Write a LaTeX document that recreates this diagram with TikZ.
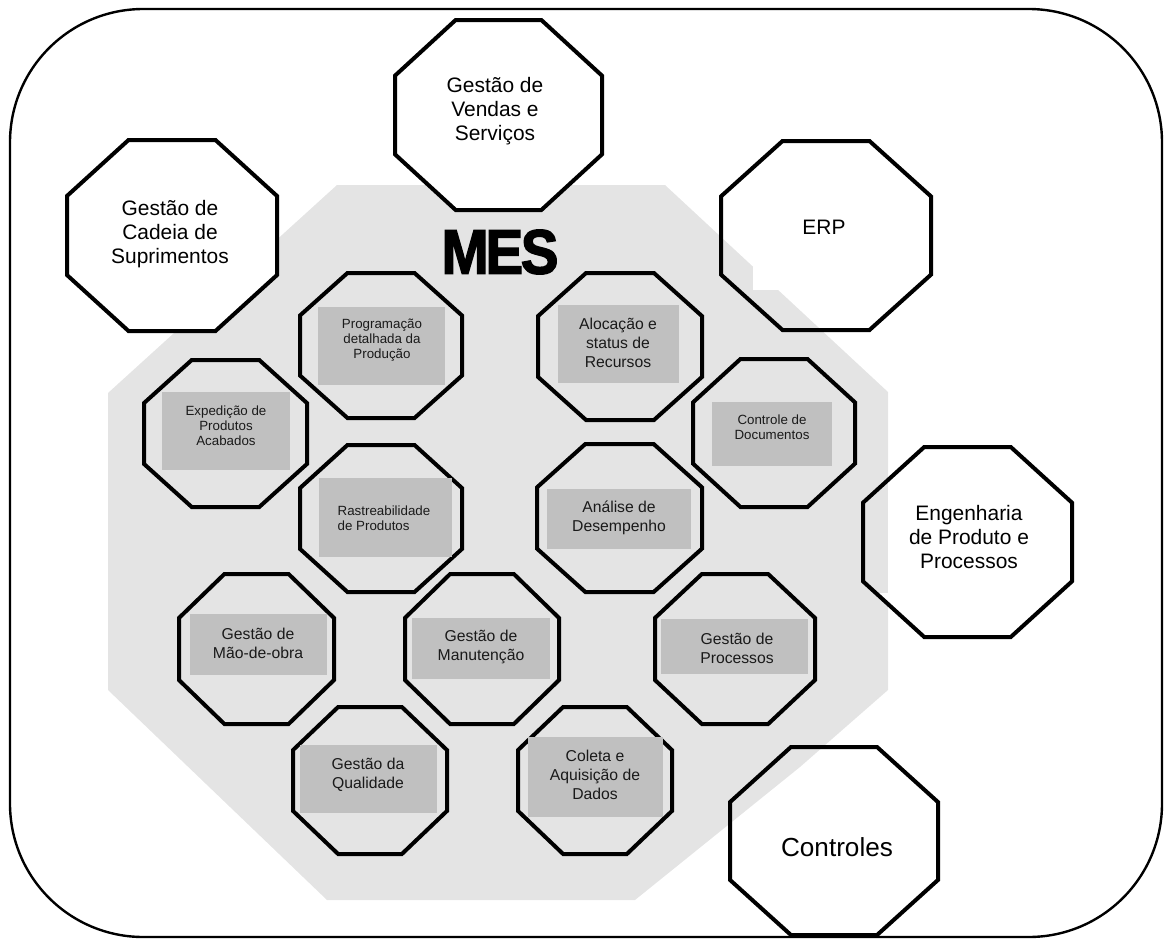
\documentclass[tikz,border=0pt]{standalone}
\usepackage{fontspec}
\setmainfont{Liberation Sans}
\definecolor{mesgray}{RGB}{228,228,228}
\definecolor{boxgray}{RGB}{192,192,192}
\definecolor{inkgray}{RGB}{26,26,26}
\newcommand{\octagon}[5][]{\path[#1] ({#2},{#3+0.293*(#5-#3)}) -- ({#2+0.293*(#4-#2)},{#3}) -- ({#4-0.293*(#4-#2)},{#3}) -- ({#4},{#3+0.293*(#5-#3)}) -- ({#4},{#5-0.293*(#5-#3)}) -- ({#4-0.293*(#4-#2)},{#5}) -- ({#2+0.293*(#4-#2)},{#5}) -- ({#2},{#5-0.293*(#5-#3)}) -- cycle;}
\tikzset{
  octo/.style={draw,line width=3pt},
  boxfill/.style={fill=boxgray},
  outtext/.style={font=\fontsize{15.7}{18}\selectfont,align=center,inner sep=0pt},
  midtext/.style={font=\fontsize{11.8}{14.3}\selectfont,align=center,text=inkgray,inner sep=0pt},
  smalltext/.style={font=\fontsize{10}{11.4}\selectfont,align=center,text=inkgray,inner sep=0pt}
}
\begin{document}
\begin{tikzpicture}[x=0.75pt,y=-0.75pt,line width=0.4pt]
\useasboundingbox (0,0) rectangle (1165,940);
\draw[line width=1.8pt,rounded corners=100pt] (10,9) rectangle (1162,937);
\fill[mesgray] (337,185) -- (665,185) -- (888,392) -- (888,690) -- (800,767) -- (635,900) -- (327,900) -- (108,690) -- (108,393) -- cycle;
\octagon[fill=white]{67}{140}{277}{331}
\octagon[fill=white]{395}{20}{602}{210}
\fill[white] (753,150) rectangle (925,290);
\octagon[fill=white]{863}{447}{1072}{637}
\begin{scope}
\octagon[clip]{863}{447}{1072}{637}
\fill[mesgray] (850,440) rectangle (888,593);
\end{scope}
\octagon[octo]{67}{140}{277}{331}
\octagon[octo]{395}{20}{602}{210}
\octagon[octo]{721}{141}{931}{330}
\octagon[octo]{863}{447}{1072}{637}
\octagon[octo]{730}{747}{938}{935}
\octagon[octo]{300}{273}{462}{418}
\octagon[octo]{144}{360}{307}{507}
\octagon[octo]{300}{445}{462}{592}
\octagon[octo]{538}{273}{702}{420}
\octagon[octo]{693}{359}{855}{507}
\octagon[octo]{537}{444}{702}{592}
\octagon[octo]{179}{574}{334}{724}
\octagon[octo]{405}{574}{559}{724}
\octagon[octo]{655}{574}{815}{724}
\octagon[octo]{293}{707}{447}{854}
\octagon[octo]{518}{707}{672}{854}
\path[boxfill] (318,307) rectangle (445,385);
\path[boxfill] (162,392) rectangle (290,470);
\path[boxfill] (319,478) rectangle (452,557);
\path[boxfill] (558,305) rectangle (679,383);
\path[boxfill] (712,402) rectangle (832,466);
\path[boxfill] (547,489) rectangle (691,549);
\path[boxfill] (190,614) rectangle (327,675);
\path[boxfill] (412,618) rectangle (550,679);
\path[boxfill] (661,619) rectangle (808,674);
\path[boxfill] (300,745) rectangle (437,813);
\path[boxfill] (528,737) rectangle (663,817);
\node[font=\fontsize{47}{47}\selectfont\bfseries\addfontfeatures{FakeBold=2.5},xscale=0.9,inner sep=0pt] (mes) at (500,252) {M\kern-2.5pt E\kern-2pt S};
\node[outtext] (cadeia) at (170,234) {Gestão de\\Cadeia de\\Suprimentos};
\node[outtext] (vendas) at (495,111) {Gestão de\\Vendas e\\Serviços};
\node[outtext] (erp) at (824,227) {ERP};
\node[outtext] (eng) at (969,537) {Engenharia\\de Produto e\\Processos};
\node[outtext,font=\fontsize{19.6}{22}\selectfont] (ctrl) at (837,847) {Controles};
\node[smalltext] (prog) at (382,340) {Programação\\detalhada da\\Produção};
\node[smalltext] (exped) at (226,426) {Expedição de\\Produtos\\Acabados};
\node[smalltext,align=left] (rastr) at (384,518) {Rastreabilidade\\de Produtos};
\node[midtext] (aloc) at (618,343) {Alocação e\\status de\\Recursos};
\node[smalltext] (docs) at (772,427) {Controle de\\Documentos};
\node[midtext] (anal) at (619,518) {Análise de\\Desempenho};
\node[midtext] (mao) at (258,643) {Gestão de\\Mão-de-obra};
\node[midtext] (manut) at (481,647) {Gestão de\\Manutenção};
\node[midtext] (proc) at (737,648) {Gestão de\\Processos};
\node[midtext] (qual) at (368,775) {Gestão da\\Qualidade};
\node[midtext] (coleta) at (595,775) {Coleta e\\Aquisição de\\Dados};
\end{tikzpicture}
\end{document}
